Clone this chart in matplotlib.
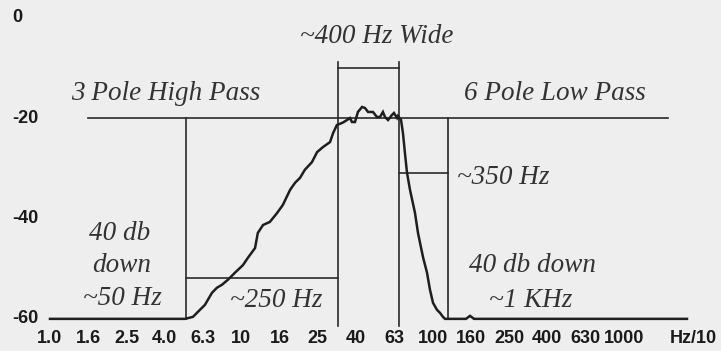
import matplotlib.pyplot as plt

# response curve, frequency in Hz/10, level in dB
freq = [1.0, 5.08, 5.59, 6.08, 6.46, 7.03, 7.46, 7.93, 8.52, 9.27, 10.2, 10.8, 11.8,
        12.2, 13.0, 14.1, 15.4, 16.5, 18.0, 19.1, 20.3, 21.5, 23.4, 24.9, 26.7,
        29.1, 30.2, 31.6, 34.0, 35.7, 37.0, 37.9, 39.3, 40.7, 42.8, 44.3, 46.0,
        48.8, 51.2, 53.1, 55.0, 56.4, 58.5, 61.3, 62.8, 65.2, 65.9, 68.4, 70.0,
        71.7, 73.5, 76.2, 80.9, 83.9, 89.1, 93.5, 96.9, 100.5, 105.4, 109.3,
        113.3, 116.1, 149.5, 156.9, 164.6, 2137]
level = [-60.0, -60.0, -59.6, -58.2, -57.2, -54.8, -53.8, -53.2, -52.2, -50.8, -49.3,
         -47.9, -45.9, -42.9, -41.3, -40.7, -38.9, -37.3, -34.3, -32.9, -31.9,
         -30.3, -28.8, -26.8, -25.8, -24.8, -23.0, -21.4, -20.9, -20.4, -20.0,
         -20.8, -20.8, -18.8, -17.8, -18.0, -18.8, -18.8, -19.8, -19.8, -18.8,
         -19.8, -20.4, -19.4, -19.0, -20.0, -19.6, -20.4, -23.0, -27.0, -30.9,
         -34.3, -38.9, -42.9, -47.7, -50.8, -54.2, -56.8, -58.2, -58.8, -59.6,
         -60.0, -60.0, -59.4, -60.0, -60.0]

# R5 preferred-number ticks (five per decade)
x_labels = ['1.0', '1.6', '2.5', '4.0', '6.3', '10', '16', '25', '40', '63',
            '100', '160', '250', '400', '630', '1000']
x_ticks = [10 ** (i / 5) for i in range(len(x_labels))]
y_ticks = [0, -20, -40, -60]

# corner points of the filter
hp_corner = 5.14      # ~50 Hz
pass_lo = 32.0
pass_hi = 66.7
lp_corner = 120.4     # ~1 KHz
hp_mark = -51.8
lp_mark = -30.9

ink = '#2a2a2a'
bg = '#eeeeee'

fig = plt.figure(figsize=(7.21, 3.51), dpi=100, facecolor=bg)
ax = fig.add_axes([0, 0, 1, 1])
ax.set_facecolor(bg)
ax.set_xscale('log')
ax.set_xlim(0.548, 3218)
ax.set_ylim(-66.4, 3.5)
ax.axis('off')

# guide lines
lw = 1.2
ax.plot([1.58, 1700], [-20, -20], color=ink, lw=lw)
ax.plot([hp_corner, hp_corner], [-20, -60], color=ink, lw=lw)
ax.plot([hp_corner, pass_lo], [hp_mark, hp_mark], color=ink, lw=lw)
ax.plot([pass_lo, pass_lo], [-8.9, -61.5], color=ink, lw=lw)
ax.plot([pass_hi, pass_hi], [-8.9, -61.5], color=ink, lw=lw)
ax.plot([pass_lo, pass_hi], [-10, -10], color=ink, lw=lw)
ax.plot([pass_hi, lp_corner], [lp_mark, lp_mark], color=ink, lw=lw)
ax.plot([lp_corner, lp_corner], [-20, -60], color=ink, lw=lw)

# measured response
ax.plot(freq, level, color='#1e1e1e', lw=1.8, solid_joinstyle='miter')

# axis labels
tick_font = dict(family=['Liberation Sans', 'DejaVu Sans'], weight='bold',
                 fontsize=13, color='#1a1a1a')
for xv, lab in zip(x_ticks, x_labels):
    ax.text(xv, -64.0, lab, ha='center', va='center', **tick_font)
ax.text(2297, -64.0, 'Hz/10', ha='center', va='center', **tick_font)
for yv in y_ticks:
    ax.text(0.633, yv, str(yv), ha='left', va='center', **tick_font)

# annotations
note = dict(family=['Liberation Serif', 'DejaVu Serif'], style='italic',
            fontsize=19.5, color='#333333', va='baseline')
ax.text(51.2, -5.1, '~400 Hz Wide', ha='center', **note)
ax.text(4.04, -16.4, '3 Pole High Pass', ha='center', **note)
ax.text(436, -16.4, '6 Pole Low Pass', ha='center', **note)
ax.text(134, -33.1, '~350 Hz', ha='left', **note)
ax.text(2.32, -44.3, '40 db', ha='center', **note)
ax.text(2.38, -50.6, 'down', ha='center', **note)
ax.text(2.38, -57.2, '~50 Hz', ha='center', **note)
ax.text(15.2, -57.6, '~250 Hz', ha='center', **note)
ax.text(331, -50.6, '40 db down', ha='center', **note)
ax.text(327, -57.6, '~1 KHz', ha='center', **note)

fig.savefig('out.png', dpi=100, facecolor=bg)
